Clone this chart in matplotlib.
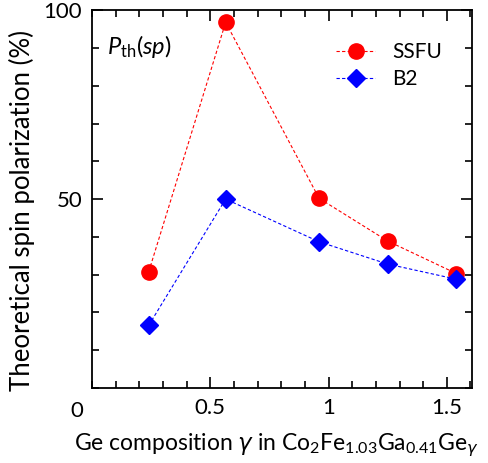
import matplotlib
matplotlib.use('Agg')
import matplotlib.pyplot as plt
from matplotlib.ticker import MultipleLocator

plt.rcParams['font.family'] = ['Lato', 'DejaVu Sans']
plt.rcParams['mathtext.fontset'] = 'custom'
plt.rcParams['mathtext.rm'] = 'Lato'
plt.rcParams['mathtext.it'] = 'Lato:italic'
plt.rcParams['mathtext.sf'] = 'DejaVu Sans:italic'

# Ge composition and theoretical spin polarization (%)
ge = [0.24, 0.565, 0.96, 1.25, 1.54]
ssfu = [30.8, 96.8, 50.2, 38.9, 30.3]
b2 = [16.6, 50.0, 38.7, 32.8, 28.8]

fig = plt.figure(figsize=(4.88, 4.63), dpi=100)
ax = fig.add_axes([0.1885, 0.162, 0.779, 0.816])

ax.plot(ge, ssfu, color='red', marker='o', markersize=11, linestyle=(0, (3, 2)),
        linewidth=0.8, label='SSFU')
ax.plot(ge, b2, color='blue', marker='D', markersize=9, linestyle=(0, (3, 2)),
        linewidth=0.8, label='B2')

ax.set_xlim(0, 1.607)
ax.set_ylim(0, 100)
ax.xaxis.set_major_locator(MultipleLocator(0.5))
ax.xaxis.set_minor_locator(MultipleLocator(0.1))
ax.yaxis.set_major_locator(MultipleLocator(50))
ax.yaxis.set_minor_locator(MultipleLocator(10))
ax.set_xticks([0.5, 1.0, 1.5])
ax.set_xticklabels(['0.5', '1', '1.5'])
ax.set_yticks([50, 100])
ax.set_yticklabels(['50', '100'])
ax.tick_params(which='both', direction='in', top=True, right=True, labelsize=16, width=1.2)
ax.tick_params(which='major', length=8, pad=7)
ax.tick_params(which='minor', length=5)
for s in ax.spines.values():
    s.set_linewidth(1.3)

# shared origin label
ax.text(-0.04, -0.035, '0', transform=ax.transAxes, fontsize=16, ha='center', va='top')

ax.set_ylabel('Theoretical spin polarization (%)', fontsize=18.5)
ax.yaxis.set_label_coords(-0.15, 0.47)
ax.set_xlabel(r'Ge composition $\mathsf{\gamma}$ in Co$_2$Fe$_{1.03}$Ga$_{0.41}$Ge$_{\mathsf{\gamma}}$',
              fontsize=16.5)
ax.xaxis.set_label_coords(0.485, -0.115)

ax.text(0.04, 0.905, r'$P_{\rm th}(sp)$', transform=ax.transAxes, fontsize=17,
        ha='left', va='center')

ax.legend(loc='upper right', frameon=False, fontsize=15, handlelength=1.9,
          handletextpad=0.8, labelspacing=0.35, bbox_to_anchor=(0.97, 0.965))

fig.savefig('out.png', dpi=100)
